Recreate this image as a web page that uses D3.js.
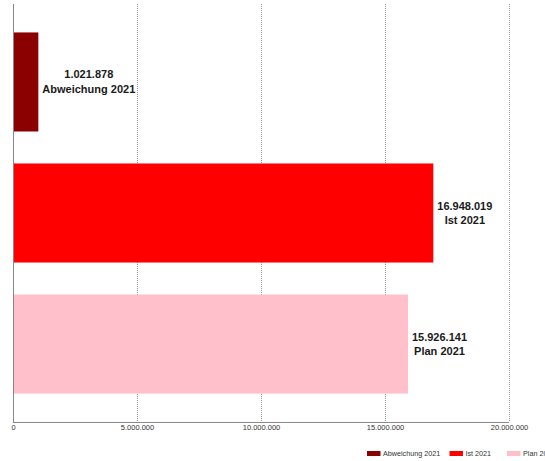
<!DOCTYPE html>
<html>
<head>
<meta charset="utf-8">
<script src="https://cdn.jsdelivr.net/npm/d3@7"></script>
<style>
  html, body { margin: 0; padding: 0; background: #fff; }
  svg { display: block; }
</style>
</head>
<body>
<svg id="chart" width="545" height="461"></svg>
<script>
const categories = ["Abweichung 2021", "Ist 2021", "Plan 2021"];
const values = [1021878, 16948019, 15926141];
const colors = ["#8B0000", "#FF0000", "#FFC0CB"];
const tickValues = [0, 5000000, 10000000, 15000000, 20000000];

const W = 545, H = 461;
const svg = d3.select("#chart");
const locale = d3.formatLocale({ decimal: ",", thousands: ".", grouping: [3], currency: ["", " €"] });
const fmt = locale.format(",.0f");

const x = d3.scaleLinear().domain([0, 20000000]).range([13, 509]);
const y = d3.scaleBand().domain(categories).range([4, 422]).paddingInner(0.244).paddingOuter(0.217);

// gridlines
svg.append("g").selectAll("line").data(tickValues.filter(d => d > 0)).join("line")
  .attr("x1", d => Math.round(x(d)) + 0.5).attr("x2", d => Math.round(x(d)) + 0.5)
  .attr("y1", 4).attr("y2", 422)
  .attr("stroke", "#999").attr("stroke-width", 1).attr("stroke-dasharray", "1,1");

// bars
svg.append("g").selectAll("rect").data(categories).join("rect")
  .attr("x", x(0))
  .attr("y", d => y(d))
  .attr("width", (d, i) => x(values[i]) - x(0))
  .attr("height", y.bandwidth())
  .attr("fill", (d, i) => colors[i]);

// axes lines
svg.append("line").attr("x1", 13.5).attr("x2", 13.5).attr("y1", 4).attr("y2", 422.5)
  .attr("stroke", "#888").attr("stroke-width", 1);
svg.append("line").attr("x1", 13).attr("x2", 509).attr("y1", 422.5).attr("y2", 422.5)
  .attr("stroke", "#888").attr("stroke-width", 1);

// x tick labels
const xAxis = d3.axisBottom(x).tickValues(tickValues).tickFormat(fmt).tickSize(0).tickPadding(0);
const gx = svg.append("g").attr("transform", "translate(0,423)").call(xAxis);
gx.select(".domain").remove();
gx.selectAll("text")
  .attr("dy", null).attr("y", 6.5)
  .attr("font-family", "Liberation Sans, Arial, sans-serif")
  .attr("font-size", "7.5px").attr("fill", "#333");

// value labels
const lg = svg.append("g");
categories.forEach((c, i) => {
  const g = lg.append("g");
  const cy = y(c) + y.bandwidth() / 2;
  const t = g.append("text")
    .attr("font-family", "Liberation Sans, Arial, sans-serif")
    .attr("font-size", "11px").attr("font-weight", "bold")
    .attr("fill", "#1a1a1a").attr("text-anchor", "middle");
  t.append("tspan").attr("x", 0).attr("y", cy - 3.5).text(fmt(values[i]));
  t.append("tspan").attr("x", 0).attr("y", cy + 11).text(c);
  const bb = t.node().getBBox();
  const cx = x(values[i]) + 4 + bb.width / 2;
  t.selectAll("tspan").attr("x", cx);
  const bb2 = t.node().getBBox();
  g.insert("rect", "text")
    .attr("x", bb2.x - 1).attr("y", bb2.y - 1)
    .attr("width", bb2.width + 2).attr("height", bb2.height + 2)
    .attr("fill", "#fff");
});

// legend
const legendX = [367, 449.5, 507];
const leg = svg.append("g");
categories.forEach((c, i) => {
  leg.append("rect").attr("x", legendX[i]).attr("y", 451).attr("width", 13.5).attr("height", 5)
    .attr("fill", colors[i]);
  leg.append("text").attr("x", legendX[i] + 16).attr("y", 456)
    .attr("font-family", "Liberation Sans, Arial, sans-serif")
    .attr("font-size", "7.2px").attr("fill", "#333").text(c);
});
</script>
</body>
</html>
